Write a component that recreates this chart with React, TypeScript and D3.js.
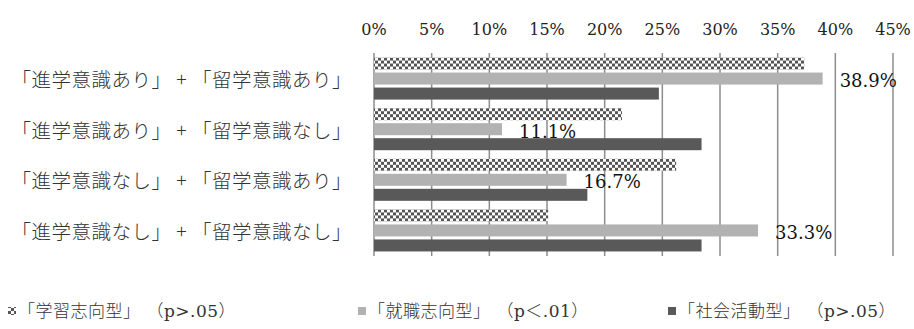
import React from "react";
import { scaleLinear, scaleBand, range } from "d3";

const categories = [
  "「進学意識あり」 + 「留学意識あり」",
  "「進学意識あり」 + 「留学意識なし」",
  "「進学意識なし」 + 「留学意識あり」",
  "「進学意識なし」 + 「留学意識なし」",
];
const seriesNames = ["学習志向型", "就職志向型", "社会活動型"];
const legendLabels = [
  "「学習志向型」 （p>.05）",
  "「就職志向型」 （p＜.01）",
  "「社会活動型」 （p>.05）",
];
const studyValues = [37.3, 21.5, 26.2, 15.1];
const jobValues = [38.9, 11.1, 16.7, 33.3];
const socialValues = [24.7, 28.4, 18.5, 28.4];
const tickValues = range(0, 50, 5);

const W = 914;
const H = 329;
const serif = "'DejaVu Serif', 'Noto Sans CJK JP', serif";
const jp = "'Noto Sans CJK JP', sans-serif";

const App = () => {
  const x = scaleLinear().domain([0, 45]).range([374, 893]);
  const y0 = scaleBand<string>()
    .domain(categories)
    .range([53, 256])
    .paddingInner(0.17)
    .paddingOuter(0.09);
  const y1 = scaleBand<string>()
    .domain(seriesNames)
    .range([0, y0.bandwidth()])
    .paddingInner(0.2);

  const fills = ["url(#checker)", "#b2b2b2", "#595959"];
  const values = [studyValues, jobValues, socialValues];

  // legend layout
  const legendX = [8, 358, 668];
  const legendY = 311;

  return (
    <div style={{ position: "absolute", left: 0, top: 0 }}>
      <svg width={W} height={H} style={{ display: "block", background: "#fff" }}>
        <defs>
          <pattern id="checker" width={6} height={6} patternUnits="userSpaceOnUse">
            <rect width={6} height={6} fill="#fff" />
            <rect width={3} height={3} fill="#555" />
            <rect x={3} y={3} width={3} height={3} fill="#555" />
          </pattern>
        </defs>

        {/* vertical gridlines */}
        {tickValues.map((t) => (
          <line
            key={t}
            x1={x(t)}
            x2={x(t)}
            y1={53}
            y2={256}
            stroke="#8c8c8c"
            strokeWidth={1.5}
          />
        ))}

        {/* top tick labels */}
        {tickValues.map((t) => (
          <text
            key={t}
            x={x(t)}
            y={29}
            textAnchor="middle"
            dominantBaseline="central"
            fontFamily={serif}
            fontSize={16}
            fill="#222"
          >
            {t}%
          </text>
        ))}

        {/* bars */}
        {categories.map((c, ci) => (
          <g key={c} transform={`translate(0,${y0(c)})`}>
            {seriesNames.map((s, si) => (
              <rect
                key={s}
                x={x(0)}
                y={y1(s)}
                width={x(values[si][ci]) - x(0)}
                height={y1.bandwidth()}
                fill={fills[si]}
              />
            ))}
            <text
              x={x(jobValues[ci]) + 17}
              y={(y1(seriesNames[1]) ?? 0) + y1.bandwidth() / 2 + 2}
              dominantBaseline="central"
              fontFamily={serif}
              fontSize={18}
              fill="#111"
            >
              {jobValues[ci].toFixed(1)}%
            </text>
          </g>
        ))}

        {/* category labels */}
        {categories.map((c) => (
          <text
            key={c}
            x={352}
            y={(y0(c) ?? 0) + y0.bandwidth() / 2}
            textAnchor="end"
            dominantBaseline="central"
            fontFamily={jp}
            fontSize={19.5}
            fontWeight={300}
            letterSpacing={0.5}
            fill="#333"
          >
            {c}
          </text>
        ))}

        {/* legend */}
        {legendLabels.map((l, i) => (
          <g key={l} transform={`translate(${legendX[i]},${legendY})`}>
            <rect x={0} y={-4} width={8} height={8} fill={fills[i]} />
            <text
              x={10}
              y={0}
              dominantBaseline="central"
              fontFamily={serif}
              fontSize={17}
              fontWeight={300}
              letterSpacing={0.5}
              fill="#333"
            >
              {l}
            </text>
          </g>
        ))}
      </svg>
    </div>
  );
};

export default App;
